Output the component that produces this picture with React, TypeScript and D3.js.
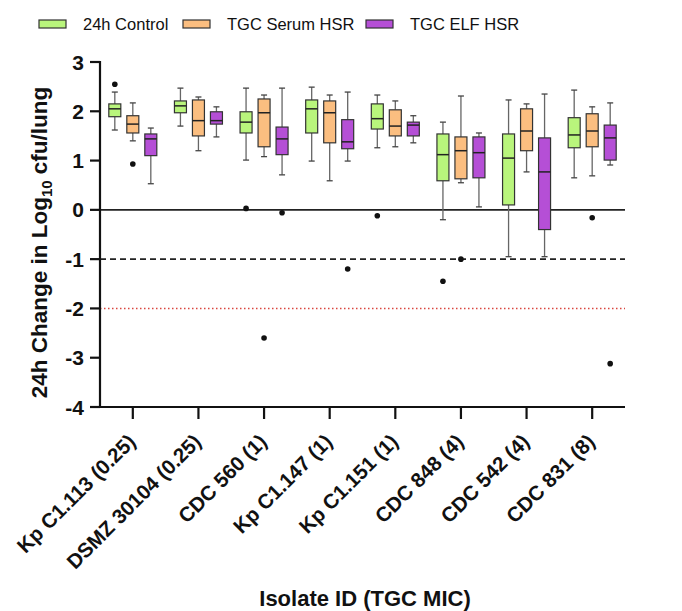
import React from "react";
import * as d3 from "d3";

// isolates (x categories)
const isolates = [
  "Kp C1.113 (0.25)",
  "DSMZ 30104 (0.25)",
  "CDC 560 (1)",
  "Kp C1.147 (1)",
  "Kp C1.151 (1)",
  "CDC 848 (4)",
  "CDC 542 (4)",
  "CDC 831 (8)",
];

const seriesNames = ["24h Control", "TGC Serum HSR", "TGC ELF HSR"];
const seriesColors = ["#b9f57c", "#fbbe80", "#b54fd6"];

// box stats per isolate: [whisker low, q1, median, q3, whisker high]
const control = [
  [1.62, 1.89, 2.05, 2.15, 2.39],
  [1.7, 1.97, 2.11, 2.21, 2.47],
  [1.01, 1.56, 1.78, 1.99, 2.47],
  [0.99, 1.56, 2.05, 2.23, 2.49],
  [1.26, 1.64, 1.85, 2.15, 2.33],
  [-0.2, 0.59, 1.12, 1.54, 1.78],
  [-0.95, 0.1, 1.05, 1.54, 2.23],
  [0.65, 1.26, 1.52, 1.87, 2.43],
];
const serum = [
  [1.4, 1.56, 1.74, 1.91, 2.17],
  [1.2, 1.5, 1.81, 2.23, 2.29],
  [1.08, 1.28, 1.97, 2.25, 2.33],
  [0.59, 1.36, 1.97, 2.21, 2.33],
  [1.28, 1.5, 1.7, 2.03, 2.21],
  [0.55, 0.63, 1.2, 1.48, 2.31],
  [0.77, 1.2, 1.6, 2.05, 2.15],
  [0.69, 1.28, 1.6, 1.95, 2.09],
];
const elf = [
  [0.53, 1.1, 1.44, 1.54, 1.66],
  [1.48, 1.74, 1.81, 1.99, 2.09],
  [0.71, 1.12, 1.44, 1.68, 2.47],
  [0.99, 1.24, 1.38, 1.83, 2.39],
  [1.36, 1.5, 1.72, 1.78, 1.91],
  [0.06, 0.65, 1.16, 1.48, 1.56],
  [-0.95, -0.4, 0.77, 1.46, 2.35],
  [0.91, 1.01, 1.46, 1.72, 2.17],
];

// outliers: [isolate index, series index, value]
const outliers = [
  [0, 0, 2.55],
  [0, 1, 0.93],
  [2, 0, 0.03],
  [2, 1, -2.6],
  [2, 2, -0.06],
  [3, 2, -1.2],
  [4, 0, -0.12],
  [5, 0, -1.45],
  [5, 1, -1.0],
  [7, 1, -0.16],
  [7, 2, -3.12],
];

const yTicks = [3, 2, 1, 0, -1, -2, -3, -4];

const W = 682;
const H = 611;

export default function App() {
  const x = d3.scaleBand().domain(isolates).range([100, 625]);
  const y = d3.scaleLinear().domain([-4, 3]).range([407, 62]);
  const offset = [-18, 0, 18];
  const boxW = 12;
  const capW = 6;
  const all = [control, serum, elf];
  const cx = (i: number, s: number) => (x(isolates[i]) as number) + x.bandwidth() / 2 + offset[s];
  const font = "Liberation Sans, Arial, sans-serif";

  return (
    <svg width={W} height={H} style={{ position: "absolute", left: 0, top: 0, background: "#fff" }} fontFamily={font}>
      {/* legend */}
      {seriesNames.map((name, s) => {
        const lx = [39, 183, 366][s];
        return (
          <g key={name}>
            <rect x={lx} y={20} width={27} height={8} fill={seriesColors[s]} stroke="#333" strokeWidth={1.2} />
            <text x={lx + 44} y={30} fontSize={16.5} fill="#111">{name}</text>
          </g>
        );
      })}

      {/* reference lines */}
      <line x1={100} x2={625} y1={y(0)} y2={y(0)} stroke="#222" strokeWidth={1.8} />
      <line x1={100} x2={625} y1={y(-1)} y2={y(-1)} stroke="#222" strokeWidth={1.6} strokeDasharray="6,4" />
      <line x1={100} x2={625} y1={y(-2)} y2={y(-2)} stroke="#d9463f" strokeWidth={1.4} strokeDasharray="1.5,2.5" />

      {/* boxes */}
      {all.map((series, s) =>
        series.map((b, i) => {
          const c = cx(i, s);
          const [lo, q1, med, q3, hi] = b;
          return (
            <g key={`${s}-${i}`}>
              <line x1={c} x2={c} y1={y(hi)} y2={y(q3)} stroke="#666" strokeWidth={1.3} />
              <line x1={c} x2={c} y1={y(q1)} y2={y(lo)} stroke="#666" strokeWidth={1.3} />
              <line x1={c - capW / 2} x2={c + capW / 2} y1={y(hi)} y2={y(hi)} stroke="#444" strokeWidth={1.3} />
              <line x1={c - capW / 2} x2={c + capW / 2} y1={y(lo)} y2={y(lo)} stroke="#444" strokeWidth={1.3} />
              <rect x={c - boxW / 2} y={y(q3)} width={boxW} height={y(q1) - y(q3)} fill={seriesColors[s]} stroke="#333" strokeWidth={1.2} />
              <line x1={c - boxW / 2} x2={c + boxW / 2} y1={y(med)} y2={y(med)} stroke="#222" strokeWidth={1.5} />
            </g>
          );
        })
      )}

      {/* outliers */}
      {outliers.map(([i, s, v], k) => (
        <circle key={k} cx={cx(i, s)} cy={y(v)} r={2.8} fill="#111" />
      ))}

      {/* y axis */}
      <line x1={100} x2={100} y1={y(3) - 1} y2={y(-4) + 1} stroke="#111" strokeWidth={2.2} />
      {yTicks.map((t) => (
        <g key={t}>
          <line x1={90} x2={100} y1={y(t)} y2={y(t)} stroke="#111" strokeWidth={2.2} />
          <text x={84} y={y(t)} dy="0.36em" textAnchor="end" fontSize={21} fontWeight="bold" fill="#111">{t}</text>
        </g>
      ))}

      {/* x axis */}
      <line x1={99} x2={625} y1={y(-4)} y2={y(-4)} stroke="#111" strokeWidth={2.2} />
      {isolates.map((d, i) => {
        const tx = (x(d) as number) + x.bandwidth() / 2;
        return (
          <g key={d}>
            <line x1={tx} x2={tx} y1={y(-4)} y2={y(-4) + 12} stroke="#111" strokeWidth={2.2} />
            <text transform={`translate(${tx + 4},${y(-4) + 36}) rotate(-45)`} textAnchor="end" fontSize={20.5} fontWeight="bold" fill="#111">{d}</text>
          </g>
        );
      })}

      {/* axis titles */}
      <text transform={`translate(47,${(y(3) + y(-4)) / 2 + 8}) rotate(-90)`} textAnchor="middle" fontSize={22.5} fontWeight="bold" fill="#111">
        24h Change in Log<tspan fontSize={15} dy={5}>10</tspan><tspan dy={-5}> cfu/lung</tspan>
      </text>
      <text x={365} y={606} textAnchor="middle" fontSize={22} fontWeight="bold" fill="#111">Isolate ID (TGC MIC)</text>
    </svg>
  );
}
